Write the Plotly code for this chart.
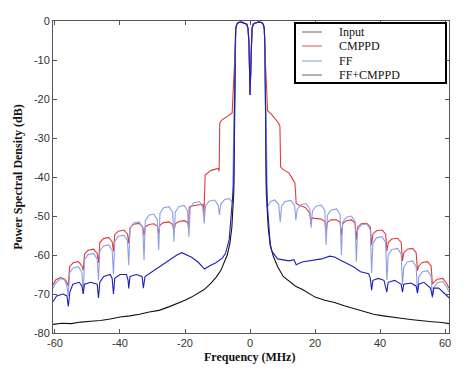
import plotly.graph_objects as go

# ---------------- data ----------------
band_freq = [-4.6, -4.4, -4.1, -3.6, -2.6, -1.6, -1.0, -0.6, -0.3, 0.0,
             0.3, 0.6, 1.0, 1.6, 2.6, 3.6, 4.1, 4.4, 4.6]
band_db = [-8.0, -2.0, -0.9, -0.4, -0.3, -0.5, -0.8, -2.0, -6.0, -19.0,
           -6.0, -2.0, -0.8, -0.5, -0.3, -0.4, -0.9, -2.0, -8.0]

input_left = [(-60.6, -77.8), (-58, -77.5), (-55, -77.6), (-52, -77.2), (-49, -77.0), (-46, -76.8),
              (-43, -76.4), (-40, -75.9), (-37, -75.6), (-34, -75.2), (-31, -74.6), (-28, -74.2),
              (-25, -73.3), (-22, -72.4), (-20, -71.6), (-18, -70.8), (-16, -69.8), (-14, -68.8),
              (-12, -67.2), (-10.5, -65.8), (-9, -64.0), (-8, -62.0), (-7, -60.0), (-6.2, -57.0),
              (-5.6, -53.0), (-5.0, -44.0)]
input_right = [(5.0, -44.0), (5.6, -53.0), (6.2, -57.5), (7.2, -60.4), (8.5, -63.0), (10.2, -65.5),
               (12.0, -66.8), (14.0, -68.0), (16.0, -68.8), (18.0, -69.8), (20.0, -70.8), (23.0, -71.6),
               (26.0, -72.2), (29.0, -73.0), (32.0, -73.8), (35.0, -74.5), (38.0, -75.2), (41.0, -75.6),
               (44.0, -76.0), (47.0, -76.3), (50.0, -76.6), (53.0, -76.9), (56.0, -77.1), (59.0, -77.3),
               (61.2, -77.6)]

cmppd_left = [(-60.6, -67.7), (-59.8, -66.4), (-58.3, -65.8), (-57.0, -66.2), (-56.3, -67.0), (-55.9, -68.0),
              (-55.5, -63.0), (-54.4, -62.0), (-52.8, -61.7), (-51.7, -62.8), (-51.3, -64.0),
              (-50.9, -59.8), (-49.8, -58.8), (-48.1, -58.5), (-47.0, -59.6), (-46.6, -62.0),
              (-46.2, -56.8), (-45.1, -55.8), (-43.5, -55.5), (-42.4, -56.6), (-42.0, -59.0),
              (-41.6, -54.8), (-40.5, -53.9), (-38.8, -53.6), (-37.7, -54.6), (-37.3, -57.0),
              (-36.9, -53.0), (-35.8, -52.1), (-34.1, -51.9), (-33.0, -52.8), (-32.6, -55.0),
              (-32.2, -52.8), (-31.1, -52.2), (-29.6, -52.0), (-28.5, -52.6), (-28.1, -54.5),
              (-27.7, -52.3), (-26.6, -51.7), (-24.9, -51.5), (-23.8, -52.2), (-23.4, -54.0),
              (-23.0, -52.0), (-21.9, -51.4), (-20.3, -51.2), (-19.2, -51.6), (-18.9, -53.0),
              (-18.7, -47.8), (-18.3, -47.5), (-16.0, -47.2), (-14.5, -47.0), (-14.2, -50.0),
              (-14.0, -40.0), (-13.8, -39.5), (-12.0, -38.3), (-9.8, -37.8), (-9.5, -38.5),
              (-9.3, -26.2), (-8.7, -25.4), (-7.0, -24.5), (-5.5, -23.6)]
cmppd_right = [(5.4, -23.0), (6.5, -23.8), (8.0, -25.2), (8.8, -26.2), (9.2, -27.0),
               (9.4, -37.4), (10.0, -38.0), (12.0, -39.0), (13.3, -40.8), (13.8, -41.5), (14.0, -44.0),
               (14.2, -46.8), (15.0, -47.2), (17.0, -47.8), (18.4, -49.3), (18.7, -52.0),
               (19.0, -50.5), (20.3, -50.6), (21.9, -50.8), (23.0, -51.4), (23.4, -54.0),
               (23.8, -51.6), (24.9, -51.0), (26.6, -51.0), (27.7, -51.6), (28.1, -55.0),
               (28.5, -52.0), (29.6, -51.2), (31.2, -51.0), (32.3, -51.8), (32.7, -56.0),
               (33.1, -52.8), (34.2, -52.0), (35.9, -51.9), (37.0, -52.8), (37.4, -57.5),
               (37.8, -54.6), (38.9, -53.8), (40.6, -53.6), (41.7, -54.6), (42.1, -59.0),
               (42.5, -56.8), (43.6, -55.9), (45.4, -55.7), (46.5, -56.8), (46.9, -61.5),
               (47.3, -59.4), (48.4, -58.5), (50.0, -58.3), (51.1, -59.4), (51.5, -64.0),
               (51.9, -62.8), (53.0, -61.9), (54.6, -61.7), (55.7, -62.8), (56.1, -67.5),
               (56.5, -67.0), (57.6, -66.2), (59.3, -66.0), (60.5, -67.3), (61.2, -68.5)]

ff_left = [(-60.6, -68.6), (-59.8, -67.2), (-58.2, -66.0), (-57.0, -66.4), (-56.3, -68.0), (-55.9, -70.5),
           (-55.5, -64.6), (-54.4, -63.3), (-52.8, -63.0), (-51.7, -64.5), (-51.3, -70.0),
           (-50.9, -61.2), (-49.8, -59.9), (-48.1, -59.6), (-47.0, -61.0), (-46.6, -66.5),
           (-46.2, -59.0), (-45.1, -57.7), (-43.5, -57.4), (-42.4, -58.8), (-42.0, -65.0),
           (-41.6, -56.5), (-40.5, -55.2), (-38.8, -54.9), (-37.7, -56.3), (-37.3, -62.6),
           (-36.9, -53.2), (-35.8, -51.8), (-34.1, -51.5), (-33.0, -53.0), (-32.6, -61.3),
           (-32.2, -51.2), (-31.1, -49.8), (-29.6, -49.5), (-28.5, -51.0), (-28.1, -58.7),
           (-27.7, -49.3), (-26.6, -47.9), (-24.9, -47.6), (-23.8, -49.0), (-23.4, -56.6),
           (-23.0, -49.0), (-21.9, -47.6), (-20.3, -47.3), (-19.2, -48.7), (-18.8, -55.3),
           (-18.4, -48.0), (-17.3, -46.6), (-15.6, -46.3), (-14.5, -47.7), (-14.1, -51.9),
           (-13.7, -47.5), (-12.6, -46.2), (-10.9, -45.9), (-9.8, -47.2), (-9.4, -49.7),
           (-9.0, -47.0), (-7.9, -45.8), (-6.5, -45.5), (-5.4, -46.5)]
ff_right = [(5.4, -47.6), (6.3, -46.3), (7.6, -45.9), (8.8, -47.0), (9.3, -51.5),
            (9.7, -47.5), (10.8, -46.3), (12.5, -46.0), (13.7, -47.3), (14.1, -51.0),
            (14.5, -48.3), (15.6, -47.1), (17.2, -46.8), (18.4, -48.2), (18.8, -53.0),
            (19.2, -48.7), (20.3, -47.5), (21.9, -47.2), (23.0, -48.6), (23.4, -57.4),
            (23.8, -49.8), (24.9, -48.5), (26.6, -48.2), (27.7, -49.6), (28.1, -60.0),
            (28.5, -51.6), (29.6, -50.3), (31.2, -50.0), (32.3, -51.4), (32.7, -61.7),
            (33.1, -53.6), (34.2, -52.3), (35.9, -52.0), (37.0, -53.5), (37.4, -64.6),
            (37.8, -57.0), (38.9, -55.6), (40.6, -55.3), (41.7, -56.8), (42.1, -66.4),
            (42.5, -60.0), (43.6, -58.6), (45.4, -58.3), (46.5, -59.8), (46.9, -67.6),
            (47.3, -63.1), (48.4, -61.8), (50.0, -61.5), (51.1, -63.0), (51.5, -69.8),
            (51.9, -65.6), (53.0, -64.3), (54.6, -64.0), (55.7, -65.5), (56.1, -71.0),
            (56.5, -68.3), (57.6, -67.1), (59.3, -66.8), (60.5, -68.2), (61.2, -69.5)]

ffc_left = [(-60.6, -72.0), (-59.5, -70.5), (-57.5, -70.0), (-56.3, -70.5), (-55.9, -73.2), (-55.4, -69.5),
            (-54.5, -67.5), (-52.5, -67.0), (-51.7, -68.0), (-51.3, -70.0), (-50.9, -67.5), (-49.0, -67.0),
            (-47.0, -67.5), (-46.6, -71.0), (-46.2, -67.0), (-45.0, -65.5), (-43.0, -65.0), (-42.4, -66.0),
            (-42.0, -70.0), (-41.6, -66.0), (-40.0, -65.0), (-38.0, -65.0), (-37.5, -66.5), (-37.3, -68.6),
            (-36.9, -65.5), (-35.0, -65.0), (-33.2, -65.5), (-32.8, -68.5), (-32.3, -65.5), (-30.0, -64.2),
            (-28.0, -63.0), (-26.0, -62.0), (-24.0, -60.8), (-22.5, -60.0), (-21.0, -59.4), (-19.5, -60.0),
            (-18.0, -60.6), (-16.0, -61.8), (-14.0, -63.6), (-12.5, -62.8), (-10.5, -62.0), (-8.5, -60.8),
            (-7.5, -59.5), (-6.4, -56.0), (-5.7, -49.3), (-5.0, -41.6)]
ffc_right = [(5.0, -41.0), (5.4, -48.0), (5.8, -52.7), (6.2, -57.0), (6.6, -58.7), (7.2, -59.6),
             (8.5, -61.0), (10.0, -61.2), (12.0, -61.5), (13.5, -61.2), (14.2, -62.5), (16.0, -61.8),
             (18.0, -61.5), (20.0, -61.3), (22.0, -61.0), (24.5, -60.3), (26.0, -60.5), (27.7, -61.3),
             (30.0, -62.2), (31.8, -63.0), (34.0, -64.3), (36.5, -64.8), (37.0, -66.0), (37.4, -69.0),
             (37.8, -66.5), (39.5, -66.0), (41.2, -66.5), (42.1, -69.5), (42.5, -67.0), (44.5, -66.5),
             (46.5, -67.5), (46.9, -69.5), (47.3, -67.5), (49.5, -67.2), (51.1, -68.0), (51.5, -69.8),
             (51.9, -67.5), (53.5, -67.0), (55.5, -68.5), (56.1, -70.7), (56.5, -68.5), (58.0, -68.5),
             (60.0, -70.0), (61.2, -71.0)]

series_names = ["Input", "CMPPD", "FF", "FF+CMPPD"]
x_ticks = [-60, -40, -20, 0, 20, 40, 60]
y_ticks = [0, -10, -20, -30, -40, -50, -60, -70, -80]
x_title = "Frequency (MHz)"
y_title = "Power Spectral Density (dB)"

# ---------------- styling ----------------
line_colors = ["#111111", "#e23a3a", "#8e9de6", "#1f1fb8"]
legend_colors = ["#9a9a9a", "#ee8a8a", "#a9c0e2", "#9a9a9a"]


def full_curve(left, right):
    xs = [p[0] for p in left] + band_freq + [p[0] for p in right]
    ys = [p[1] for p in left] + band_db + [p[1] for p in right]
    return xs, ys


curves = [full_curve(input_left, input_right), full_curve(cmppd_left, cmppd_right),
          full_curve(ff_left, ff_right), full_curve(ffc_left, ffc_right)]

fig = go.Figure()
for (xs, ys), name, col in zip(curves, series_names, line_colors):
    fig.add_trace(go.Scatter(x=xs, y=ys, mode="lines", name=name, showlegend=False,
                             line=dict(color=col, width=1.1)))

W, H = 474, 369
L, R, T, B = 53, 449, 21, 333


def px(xp):
    return (xp - L) / (R - L)


def py(yp):
    return 1 - (yp - T) / (B - T)


title_font = dict(family="Liberation Serif", size=12, color="#111")
shapes = [dict(type="rect", xref="paper", yref="paper", x0=px(295), x1=px(446), y0=py(83), y1=py(23),
               line=dict(color="black", width=2), fillcolor="white", layer="above")]
annotations = [dict(xref="paper", yref="paper", x=px(249), y=py(357), text="<b>%s</b>" % x_title,
                    showarrow=False, xanchor="center", yanchor="middle", font=title_font)]
rows = [32, 46, 61, 75]
for name, col, yr in zip(series_names, legend_colors, rows):
    shapes.append(dict(type="line", xref="paper", yref="paper", x0=px(302), x1=px(322),
                       y0=py(yr), y1=py(yr), line=dict(color=col, width=1.5), layer="above"))
    annotations.append(dict(xref="paper", yref="paper", x=px(337), y=py(yr), text=name,
                            showarrow=False, xanchor="left", yanchor="middle",
                            font=dict(family="Liberation Serif", size=12, color="#111")))

axis_common = dict(showline=True, linecolor="#555", linewidth=1, mirror="ticks", ticks="inside",
                   ticklen=4, tickcolor="#555", showgrid=False, zeroline=False,
                   tickfont=dict(family="Liberation Sans", size=11, color="#333"))

fig.update_layout(
    width=W, height=H,
    margin=dict(l=L, r=W - R, t=T, b=H - B, autoexpand=False),
    paper_bgcolor="white", plot_bgcolor="white",
    showlegend=False,
    shapes=shapes, annotations=annotations,
    xaxis=dict(range=[-60.6, 61.2], tickvals=x_ticks, ticktext=[str(v) for v in x_ticks],
               **axis_common),
    yaxis=dict(range=[-80, 0], tickvals=y_ticks, ticktext=[str(v) for v in y_ticks],
               title=dict(text="<b>%s</b>" % y_title, standoff=8, font=title_font),
               **axis_common),
)

# remove the default 8 px page margin so the 474x369 figure fills the window exactly
fig.write_html("out.html", config={"displayModeBar": False},
               post_script="document.body.style.margin='0';document.body.style.overflow='hidden';")
